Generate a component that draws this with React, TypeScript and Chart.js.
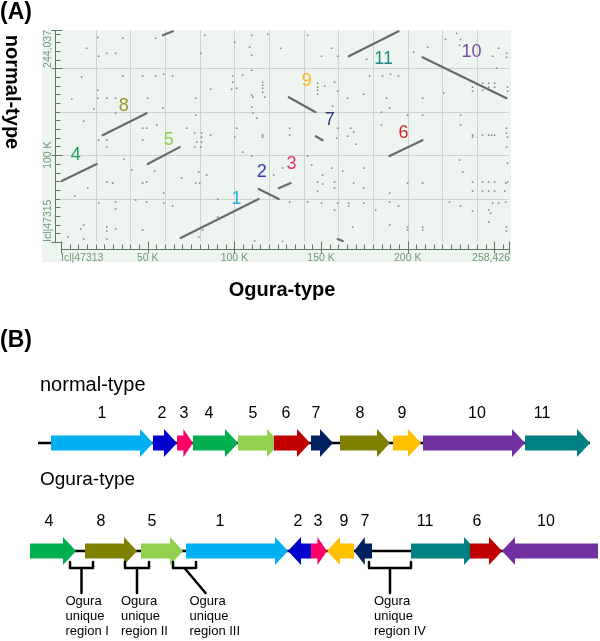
import React, { useEffect, useRef } from 'react';
import Chart from 'chart.js/auto';

const FONT = '"Liberation Sans", Arial, sans-serif';

// ---------------- Panel A : dot plot (values in kb) ----------------
const X_MAX = 258.426;
const Y_MAX = 244.037;
const xTickValues = [0, 50, 100, 150, 200, 258.426];
const xTickLabels = ['Icl|47313', '50 K', '100 K', '150 K', '200 K', '258,426'];
const xMajorTicks = [0, 50, 100, 150, 200, 250, 258.426];
const yTickValues = [0, 100, 244.037];
const yTickLabels = ['Icl|47315', '100 K', '244,037'];
const yMajorTicks = [0, 100, 200, 244.037];

// [x1, y1, x2, y2] Ogura kb vs normal kb
const alignmentSegments: number[][] = [
  [69.0, 4.6, 114.0, 49.4],
  [114.0, 60.9, 125.6, 49.4],
  [125.6, 62.0, 132.5, 67.8],
  [0.4, 70.1, 20.6, 89.7],
  [50.0, 89.7, 68.5, 109.2],
  [24.0, 123.0, 49.4, 148.3],
  [58.8, 238.0, 64.5, 242.5],
  [131.4, 166.7, 146.9, 149.4],
  [146.9, 121.8, 150.9, 117.2],
  [189.5, 98.9, 208.5, 117.2],
  [166.0, 213.8, 194.7, 242.5],
  [208.5, 212.6, 257.0, 165.5],
  [159.6, 3.4, 162.5, 1.1],
];

const blockIds = ['1', '2', '3', '4', '5', '6', '7', '8', '9', '10', '11'];
const blockLabelX = [101.3, 115.8, 133.0, 8.5, 62.1, 197.5, 155.0, 36.2, 141.7, 236.8, 186.1];
const blockLabelY = [49.4, 80.5, 89.7, 100.0, 117.2, 125.3, 140.2, 156.3, 185.1, 218.4, 210.3];
const dotplotLabelColors = ['#2aa8e0', '#3236ad', '#e8336f', '#21a05e', '#8fce4f', '#cb2a2a', '#2a3a78', '#999a2a', '#f9b915', '#7b4ba6', '#1e8c8c'];

const noiseDots: number[][] = [
  [21.2, 235.6], [35.6, 234.5], [54.6, 234.5], [14.8, 223.0], [21.7, 213.8], [26.4, 217.2], [31.5, 217.2],
  [82.9, 237.9], [80.6, 217.2], [100.2, 229.9], [110.0, 237.9], [119.2, 239.1], [108.8, 224.1], [110.0, 214.9],
  [126.7, 223.0], [110.0, 197.7], [11.9, 189.7], [35.6, 190.8], [47.1, 190.8], [54.6, 190.8], [59.2, 193.1],
  [64.4, 190.8], [99.0, 190.8], [104.8, 192.0], [116.3, 183.9], [116.3, 180.5], [116.3, 177.0], [116.3, 172.4],
  [86.3, 175.9], [99.0, 183.9], [98.4, 175.9], [101.3, 177.0], [6.2, 164.4], [21.2, 174.7], [21.2, 165.5],
  [26.4, 165.5], [31.5, 165.5], [50.0, 165.5], [77.7, 165.5], [110.0, 169.0], [110.6, 166.7], [117.5, 166.7],
  [18.9, 152.9], [58.7, 154.0], [110.0, 155.2], [110.6, 148.3], [112.9, 142.5], [31.5, 148.3], [13.1, 139.1],
  [77.7, 146.0], [47.1, 131.0], [49.4, 131.0], [55.2, 134.5], [72.5, 131.0], [77.1, 125.3], [81.1, 125.3],
  [81.1, 120.7], [86.3, 123.0], [101.3, 131.0], [116.3, 123.0], [116.3, 120.7], [131.9, 131.0], [131.9, 123.0],
  [100.2, 120.7], [21.7, 117.2], [26.4, 117.2], [47.1, 117.2], [26.4, 109.2], [78.3, 114.9], [81.1, 114.9],
  [77.1, 109.2], [80.6, 109.2],
  [142.3, 237.9], [156.1, 223.0], [150.3, 213.8], [159.6, 213.8], [176.3, 210.3], [203.4, 218.4], [211.5, 224.1],
  [221.8, 233.3], [228.2, 240.2], [230.5, 233.3], [229.9, 226.4], [252.4, 223.0], [257.0, 217.2], [257.0, 212.6],
  [249.0, 213.8], [251.3, 200.0], [148.0, 182.8], [148.0, 178.2], [148.0, 174.7], [148.0, 170.1], [152.1, 179.3],
  [157.8, 183.9], [159.6, 173.6], [178.0, 190.8], [185.5, 190.8], [190.1, 193.1], [194.7, 190.8], [165.3, 165.5],
  [174.6, 170.1], [187.8, 165.5], [189.6, 154.0], [208.6, 165.5], [220.7, 171.3], [237.4, 178.2], [237.4, 173.6],
  [243.2, 182.8], [243.2, 174.7], [246.7, 182.8], [246.7, 178.2], [250.1, 182.8], [250.1, 178.2], [257.6, 178.2],
  [257.6, 173.6], [156.7, 156.3], [159.6, 131.0], [167.1, 131.0], [165.3, 121.8], [168.8, 126.4], [159.0, 119.5],
  [170.0, 112.6], [184.9, 134.5], [199.9, 146.0], [208.6, 146.0], [230.5, 146.0], [230.5, 134.5], [237.4, 123.0],
  [237.4, 120.7], [243.2, 123.0], [246.7, 123.0], [248.4, 123.0], [250.1, 123.0], [257.0, 131.0], [257.0, 125.3],
  [257.6, 120.7], [257.0, 109.2], [184.9, 149.4],
  [36.2, 95.4], [26.4, 69.0], [29.8, 67.8], [15.4, 62.1], [40.8, 82.8], [49.4, 69.0], [47.1, 67.8], [54.0, 81.6],
  [59.2, 56.3], [69.6, 73.6], [77.7, 67.8], [80.0, 67.8], [79.4, 80.5], [84.0, 77.0], [104.8, 103.4], [110.0, 98.9],
  [122.7, 77.0], [127.8, 85.1], [7.9, 52.9], [21.7, 44.8], [31.5, 46.0], [31.5, 37.9], [43.1, 48.3], [49.4, 46.0],
  [59.2, 44.8], [64.4, 41.4], [90.4, 49.4], [131.9, 46.0], [13.1, 19.5], [11.4, 14.9], [26.4, 17.2], [26.4, 12.6],
  [31.5, 14.9], [47.1, 13.8], [3.9, 5.7], [13.1, 3.4], [26.4, 3.4], [81.7, 13.8], [90.4, 28.7], [111.7, 1.1],
  [127.8, 0.5], [79.4, 5.7],
  [142.3, 98.9], [144.6, 88.5], [150.9, 77.0], [148.0, 69.0], [150.9, 66.7], [148.0, 58.6], [156.1, 85.1],
  [162.5, 81.6], [157.8, 69.0], [157.8, 62.1], [168.8, 67.8], [174.6, 85.1], [174.6, 62.1], [142.3, 46.0],
  [150.3, 44.8], [157.8, 36.8], [159.6, 44.8], [165.9, 44.8], [165.9, 41.4], [174.6, 44.8], [181.5, 36.8],
  [189.6, 56.3], [189.6, 46.0], [194.7, 41.4], [199.9, 67.8], [208.6, 67.8], [189.6, 19.5], [199.9, 17.2],
  [199.9, 13.8], [208.6, 17.2], [208.6, 13.8], [168.2, 17.2], [224.1, 46.0], [230.5, 41.4], [237.4, 69.0],
  [237.4, 58.6], [237.4, 35.6], [243.2, 69.0], [243.2, 58.6], [246.7, 69.0], [246.7, 58.6], [250.1, 69.0],
  [250.1, 58.6], [256.5, 67.8], [257.6, 69.0], [255.9, 58.6], [256.5, 46.0], [252.4, 44.8], [249.0, 44.8],
  [246.7, 36.8], [247.8, 33.3], [246.7, 23.0], [257.0, 17.2], [257.0, 12.6], [231.7, 80.5], [229.9, 94.3],
  [257.6, 90.8],
];

// ---------------- Panel B : gene order maps (diagram units) ----------------
const geneColors: Record<string, string> = {
  '1': '#00b0f0', '2': '#0000cc', '3': '#ff0066', '4': '#00b050', '5': '#92d050', '6': '#c00000',
  '7': '#002060', '8': '#808000', '9': '#ffc000', '10': '#7030a0', '11': '#008080',
};
// [id, from, to, direction]
const normalGenes: [string, number, number, number][] = [
  ['1', 51, 153, 1], ['2', 153, 177, 1], ['3', 177, 193, 1], ['4', 193, 238, 1], ['5', 238, 280, 1],
  ['6', 274, 310, 1], ['7', 311, 333, 1], ['8', 340, 390, 1], ['9', 393, 421, 1], ['10', 423, 525, 1],
  ['11', 525, 590, 1],
];
const normalLabelX = [102, 162, 184, 209, 253, 286, 316, 360, 402, 477, 542];
const normalSpan = [38, 590];

const oguraGenes: [string, number, number, number][] = [
  ['4', 30, 76, 1], ['8', 85, 137, 1], ['5', 141, 183, 1], ['1', 186, 288, 1], ['2', 288, 311, -1],
  ['3', 311, 327, 1], ['9', 327, 354, -1], ['7', 354, 372, -1], ['11', 411, 477, 1], ['6', 470, 502, 1],
  ['10', 502, 598, -1],
];
const oguraLabelX = [49, 101, 152, 220, 298, 318, 344, 365, 425, 477, 546];
const oguraSpan = [30, 598];

const uniqueRegionNames = ['I', 'II', 'III', 'IV'];
const uniqueRegionFrom = [70, 125, 173, 369];
const uniqueRegionTo = [93, 149, 196, 411];
const uniqueRegionSlanted = [false, false, true, false];

// rows on the y scale
const NORMAL_ROW = 1;
const OGURA_ROW = 0;

function line(ctx: CanvasRenderingContext2D, x1: number, y1: number, x2: number, y2: number) {
  ctx.beginPath();
  ctx.moveTo(x1, y1);
  ctx.lineTo(x2, y2);
  ctx.stroke();
}

const dotplotPlugin = {
  id: 'dotplotFrame',
  beforeDraw(chart: any) {
    const { ctx, chartArea: a, scales } = chart;
    const x = scales.x, y = scales.y;
    ctx.save();
    ctx.fillStyle = '#eef4ef';
    ctx.fillRect(a.left - 19, a.top, a.right - a.left + 21, a.bottom - a.top + 20);
    ctx.strokeStyle = '#cdd5d1';
    ctx.lineWidth = 1;
    for (let v = 20; v < X_MAX; v += 20) {
      const px = Math.round(x.getPixelForValue(v)) + 0.5;
      line(ctx, px, a.top, px, a.bottom);
    }
    for (let v = 50; v < Y_MAX; v += 50) {
      const py = Math.round(y.getPixelForValue(v)) + 0.5;
      line(ctx, a.left, py, a.right, py);
    }
    ctx.restore();
  },
  afterDraw(chart: any) {
    const { ctx, chartArea: a, scales } = chart;
    const x = scales.x, y = scales.y;
    ctx.save();
    // axes
    ctx.strokeStyle = '#5d7764';
    ctx.lineWidth = 1;
    const axisY = Math.round(a.bottom + 7) + 0.5;
    const axisX = Math.round(a.left - 6) + 0.5;
    line(ctx, x.getPixelForValue(0), axisY, x.getPixelForValue(X_MAX) + 1, axisY);
    line(ctx, axisX, y.getPixelForValue(0), axisX, y.getPixelForValue(Y_MAX));
    for (let v = 0; v <= X_MAX; v += 5) {
      const px = Math.round(x.getPixelForValue(v)) + 0.5;
      line(ctx, px, axisY - 5, px, axisY);
    }
    xMajorTicks.forEach((v) => {
      const px = Math.round(x.getPixelForValue(v)) + 0.5;
      line(ctx, px, axisY - 8, px, axisY + 4);
    });
    for (let v = 0; v <= Y_MAX; v += 10) {
      const py = Math.round(y.getPixelForValue(v)) + 0.5;
      line(ctx, axisX, py, axisX + 5, py);
    }
    yMajorTicks.forEach((v) => {
      const py = Math.round(y.getPixelForValue(v)) + 0.5;
      line(ctx, axisX - 4, py, axisX + 7, py);
    });
    // tick labels
    ctx.fillStyle = '#6f9a7b';
    ctx.font = `10.5px ${FONT}`;
    ctx.textBaseline = 'middle';
    xTickValues.forEach((v, i) => {
      ctx.textAlign = i === 0 ? 'left' : i === xTickValues.length - 1 ? 'right' : 'center';
      ctx.fillText(xTickLabels[i], x.getPixelForValue(v) + (i === xTickValues.length - 1 ? 1 : 0), a.bottom + 16);
    });
    yTickValues.forEach((v, i) => {
      ctx.save();
      ctx.translate(a.left - 13, y.getPixelForValue(v));
      ctx.rotate(-Math.PI / 2);
      ctx.textAlign = i === 0 ? 'left' : i === yTickValues.length - 1 ? 'right' : 'center';
      ctx.fillText(yTickLabels[i], 0, 0);
      ctx.restore();
    });
    // block numbers
    ctx.font = `18px ${FONT}`;
    ctx.textAlign = 'center';
    blockIds.forEach((id, i) => {
      ctx.fillStyle = dotplotLabelColors[i];
      ctx.fillText(id, x.getPixelForValue(blockLabelX[i]), y.getPixelForValue(blockLabelY[i]));
    });
    // titles
    ctx.fillStyle = '#000';
    ctx.font = `bold 23px ${FONT}`;
    ctx.textAlign = 'left';
    ctx.fillText('(A)', 0, 13);
    ctx.font = `bold 20px ${FONT}`;
    ctx.textAlign = 'center';
    ctx.fillText('Ogura-type', 282, 290);
    ctx.save();
    ctx.translate(12, 92);
    ctx.rotate(Math.PI / 2);
    ctx.fillText('normal-type', 0, 0);
    ctx.restore();
    ctx.restore();
  },
};

function drawArrow(ctx: CanvasRenderingContext2D, x0: number, x1: number, yc: number, dir: number, color: string) {
  const w = x1 - x0;
  const hl = Math.min(13, w * 0.6);
  const hh = 14;
  const sh = 7.5;
  ctx.fillStyle = color;
  ctx.beginPath();
  if (dir > 0) {
    ctx.moveTo(x0, yc - sh);
    ctx.lineTo(x1 - hl, yc - sh);
    ctx.lineTo(x1 - hl, yc - hh);
    ctx.lineTo(x1, yc);
    ctx.lineTo(x1 - hl, yc + hh);
    ctx.lineTo(x1 - hl, yc + sh);
    ctx.lineTo(x0, yc + sh);
  } else {
    ctx.moveTo(x1, yc - sh);
    ctx.lineTo(x0 + hl, yc - sh);
    ctx.lineTo(x0 + hl, yc - hh);
    ctx.lineTo(x0, yc);
    ctx.lineTo(x0 + hl, yc + hh);
    ctx.lineTo(x0 + hl, yc + sh);
    ctx.lineTo(x1, yc + sh);
  }
  ctx.closePath();
  ctx.fill();
}

const geneMapPlugin = {
  id: 'geneMap',
  afterDraw(chart: any) {
    const { ctx, scales } = chart;
    const x = scales.x, y = scales.y;
    ctx.save();
    ctx.fillStyle = '#000';
    ctx.textBaseline = 'middle';
    ctx.font = `bold 23px ${FONT}`;
    ctx.textAlign = 'left';
    ctx.fillText('(B)', 0, 31);
    ctx.font = `20px ${FONT}`;
    ctx.fillText('normal-type', 40, 75);
    ctx.font = `19px ${FONT}`;
    ctx.fillText('Ogura-type', 40, 170);

    const rows: [number, [string, number, number, number][], number[], number[]][] = [
      [NORMAL_ROW, normalGenes, normalLabelX, normalSpan],
      [OGURA_ROW, oguraGenes, oguraLabelX, oguraSpan],
    ];
    rows.forEach(([row, genes, labels, span]) => {
      const yc = y.getPixelForValue(row);
      ctx.strokeStyle = '#000';
      ctx.lineWidth = 2.5;
      line(ctx, x.getPixelForValue(span[0]), yc, x.getPixelForValue(span[1]), yc);
      genes.forEach(([id, from, to, dir]) => {
        drawArrow(ctx, x.getPixelForValue(from), x.getPixelForValue(to), yc, dir, geneColors[id]);
      });
      ctx.fillStyle = '#000';
      ctx.font = `16px ${FONT}`;
      ctx.textAlign = 'center';
      genes.forEach(([id], i) => {
        ctx.fillText(id, x.getPixelForValue(labels[i]), yc - 29);
      });
    });

    // Ogura unique regions
    const yo = y.getPixelForValue(OGURA_ROW);
    ctx.strokeStyle = '#000';
    ctx.lineWidth = 2.5;
    ctx.lineJoin = 'round';
    ctx.lineCap = 'round';
    uniqueRegionNames.forEach((name, i) => {
      const l = x.getPixelForValue(uniqueRegionFrom[i]);
      const r = x.getPixelForValue(uniqueRegionTo[i]);
      const m = (l + r) / 2;
      const top = yo + 11, bot = yo + 17, end = yo + 42;
      ctx.beginPath();
      ctx.moveTo(l, top);
      ctx.lineTo(l, bot);
      ctx.lineTo(r, bot);
      ctx.lineTo(r, top);
      ctx.stroke();
      const ex = uniqueRegionSlanted[i] ? m + 21 : m;
      line(ctx, m, bot, ex, end);
      ctx.fillStyle = '#000';
      ctx.font = `13px ${FONT}`;
      ctx.textAlign = 'left';
      const tx = ex - 16;
      ctx.fillText('Ogura', tx, end + 8);
      ctx.fillText('unique', tx, end + 23);
      ctx.fillText('region ' + name, tx, end + 38);
    });
    ctx.restore();
  },
};

export default function App() {
  const refA = useRef<HTMLCanvasElement>(null);
  const refB = useRef<HTMLCanvasElement>(null);

  useEffect(() => {
    const datasetsA: any[] = [
      {
        label: 'hits',
        data: noiseDots.map(([px, py]) => ({ x: px, y: py })),
        pointRadius: 1.1,
        pointStyle: 'rect',
        backgroundColor: '#858585',
        borderWidth: 0,
        showLine: false,
      },
      ...alignmentSegments.map(([x1, y1, x2, y2], i) => ({
        label: 'seg' + i,
        data: [{ x: x1, y: y1 }, { x: x2, y: y2 }],
        showLine: true,
        borderColor: '#6b6b6b',
        borderWidth: 2.2,
        pointRadius: 0,
        borderCapStyle: 'round',
      })),
    ];
    const chartA = new Chart(refA.current as HTMLCanvasElement, {
      type: 'scatter',
      data: { datasets: datasetsA },
      options: {
        responsive: false,
        animation: false,
        devicePixelRatio: 1,
        events: [],
        layout: { padding: { left: 61, right: 91, top: 30, bottom: 68 } },
        scales: {
          x: { type: 'linear', min: 0, max: X_MAX, display: false },
          y: { type: 'linear', min: 0, max: Y_MAX, display: false },
        },
        plugins: { legend: { display: false }, tooltip: { enabled: false } },
      } as any,
      plugins: [dotplotPlugin as any],
    });

    const chartB = new Chart(refB.current as HTMLCanvasElement, {
      type: 'scatter',
      data: { datasets: [] },
      options: {
        responsive: false,
        animation: false,
        devicePixelRatio: 1,
        events: [],
        layout: { padding: { left: 0, right: 0, top: 133, bottom: 90 } },
        scales: {
          x: { type: 'linear', min: 0, max: 600, display: false },
          y: { type: 'linear', min: 0, max: 1, display: false },
        },
        plugins: { legend: { display: false }, tooltip: { enabled: false } },
      } as any,
      plugins: [geneMapPlugin as any],
    });

    return () => {
      chartA.destroy();
      chartB.destroy();
    };
  }, []);

  return (
    <div style={{ position: 'absolute', left: 0, top: 0, width: 600, height: 641, background: '#fff' }}>
      <canvas ref={refA} width={600} height={310} style={{ position: 'absolute', left: 0, top: 0, width: 600, height: 310 }} />
      <canvas ref={refB} width={600} height={331} style={{ position: 'absolute', left: 0, top: 310, width: 600, height: 331 }} />
    </div>
  );
}
